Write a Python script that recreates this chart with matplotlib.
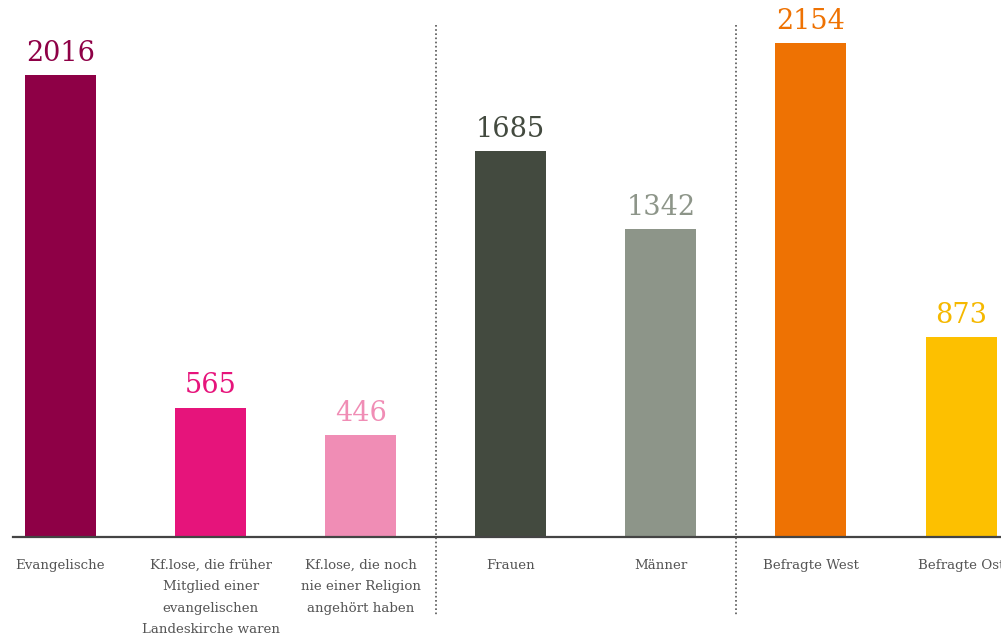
import matplotlib
matplotlib.use('Agg')
import matplotlib.pyplot as plt

plt.rcParams['font.family'] = ['DejaVu Serif']

categories = ['Evangelische',
              'Kf.lose, die früher\nMitglied einer\nevangelischen\nLandeskirche waren',
              'Kf.lose, die noch\nnie einer Religion\nangehört haben',
              'Frauen', 'Männer', 'Befragte West', 'Befragte Ost']
values = [2016, 565, 446, 1685, 1342, 2154, 873]
colors = ['#8E0046', '#E6147B', '#F08DB5', '#434A3F', '#8D9589', '#EE7203', '#FDC000']
label_colors = ['#8E0046', '#E6147B', '#F08DB5', '#434A3F', '#8D9589', '#EE7203', '#F5B800']
separators = [2.5, 4.5]

fig = plt.figure(figsize=(10.01, 6.4), dpi=100)
ax = fig.add_axes([0, 103 / 640, 1, 537 / 640])

x = list(range(len(values)))
ax.bar(x, values, width=0.473, color=colors)

for i, v in enumerate(values):
    ax.text(i, v + 36, str(v), ha='center', va='bottom', fontsize=19.5,
            color=label_colors[i])
    # letzte Beschriftung läuft wie im Original über den Rand
    ax.text(i, -94, categories[i], ha='center', va='top', fontsize=9.6,
            color='#555555', linespacing=1.86, clip_on=False)

# Grundlinie
ax.plot([-0.316, 6.3], [0, 0], color='#444444', lw=1.6, clip_on=False)

# gepunktete Trennlinien
for s in separators:
    ax.plot([s, s], [2234, -340], color='#555555', lw=1.2,
            linestyle=(0, (1, 1.5)), clip_on=False)

ax.set_xlim(-0.403, 6.266)
ax.set_ylim(0, 2343)
ax.axis('off')

fig.savefig('out.png', dpi=100)
